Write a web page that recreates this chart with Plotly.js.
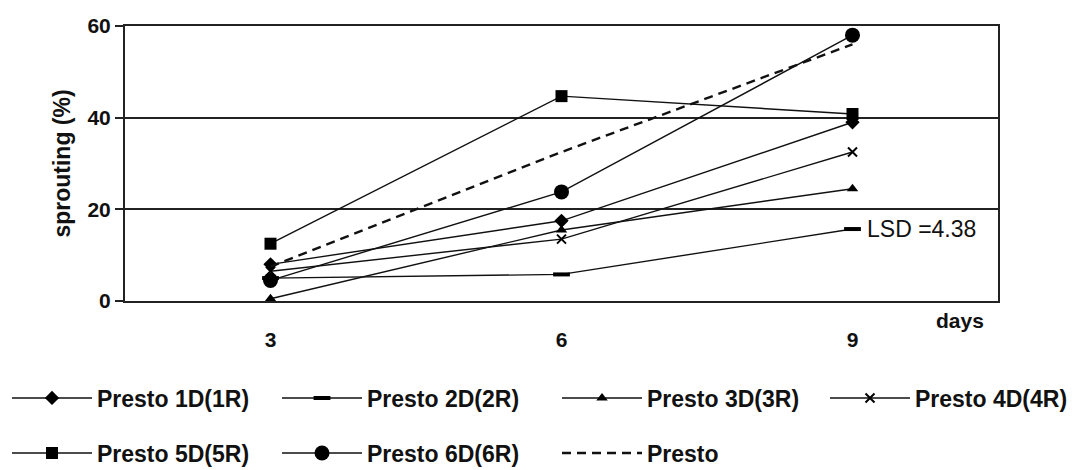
<!DOCTYPE html>
<html>
<head>
<meta charset="utf-8">
<script src="https://cdn.plot.ly/plotly-3.0.1.min.js"></script>
<style>html,body{margin:0;padding:0;background:#fff;}#chart{width:1080px;height:470px;}</style>
</head>
<body>
<div id="chart"></div>
<script>
const days = ['3', '6', '9'];
const presto1D = [8, 17.5, 39];
const presto2D = [5, 5.8, 15.7];
const presto3D = [0.5, 15.5, 24.5];
const presto4D = [6.5, 13.5, 32.5];
const presto5D = [12.5, 44.7, 40.8];
const presto6D = [4.5, 23.8, 58];
const presto = [7.5, 32.5, 56];
const yTicks = [0, 20, 40, 60];
const lsdText = 'LSD =4.38';

const FONT = 'Liberation Sans, Arial, sans-serif';
function tr(name, y, marker, legend) {
  return {
    x: days, y: y, name: name, type: 'scatter', mode: 'lines+markers',
    line: {color: '#111', width: 1.4},
    marker: Object.assign({color: '#000', line: {color: '#000', width: 0}}, marker),
    legend: legend
  };
}
const traces = [
  tr('Presto 1D(1R)', presto1D, {symbol: 'diamond', size: 11}, 'legend'),
  tr('Presto 2D(2R)', presto2D, {symbol: 'line-ew', size: 12, line: {color: '#000', width: 4}}, 'legend2'),
  tr('Presto 3D(3R)', presto3D, {symbol: 'triangle-up', size: 10}, 'legend3'),
  tr('Presto 4D(4R)', presto4D, {symbol: 'x-thin', size: 9, line: {color: '#000', width: 2}}, 'legend4'),
  tr('Presto 5D(5R)', presto5D, {symbol: 'square', size: 12}, 'legend5'),
  tr('Presto 6D(6R)', presto6D, {symbol: 'circle', size: 15}, 'legend6'),
  {x: days, y: presto, name: 'Presto', type: 'scatter', mode: 'lines',
   line: {color: '#111', width: 2.4, dash: '9px,6px'}, legend: 'legend7'}
];

function leg(xpx, ypx) {
  return {
    orientation: 'h', xref: 'container', yref: 'container',
    x: xpx / 1080, y: 1 - ypx / 470,
    xanchor: 'left', yanchor: 'middle', itemwidth: 80,
    font: {family: FONT, size: 23, color: '#111', weight: 'bold'},
    bgcolor: 'rgba(0,0,0,0)', borderwidth: 0
  };
}

const layout = {
  width: 1080, height: 470,
  margin: {l: 125, r: 82, t: 26, b: 169},
  paper_bgcolor: '#fff', plot_bgcolor: '#fff',
  font: {family: FONT, size: 20, color: '#111', weight: 'bold'},
  showlegend: true,
  legend: leg(7, 398), legend2: leg(277, 398), legend3: leg(557, 398), legend4: leg(825, 398),
  legend5: leg(7, 453), legend6: leg(277, 453), legend7: leg(557, 453),
  xaxis: {
    type: 'category', range: [-0.5, 2.5], showgrid: false, zeroline: false,
    showline: true, linecolor: '#222', linewidth: 2, mirror: true,
    ticks: '', ticklabelstandoff: 19,
    tickfont: {family: FONT, size: 21, color: '#111', weight: 'bold'}
  },
  yaxis: {
    range: [0, 60], tickvals: yTicks, showgrid: true, gridcolor: '#222', gridwidth: 2,
    zeroline: false, showline: true, linecolor: '#222', linewidth: 2, mirror: true,
    ticks: 'outside', ticklen: 8, tickcolor: '#222', tickwidth: 2,
    tickfont: {family: FONT, size: 21, color: '#111', weight: 'bold'},
    title: {text: 'sprouting (%)', standoff: 10, font: {family: FONT, size: 23, color: '#111', weight: 'bold'}}
  },
  annotations: [
    {x: 2, y: presto2D[2], xref: 'x', yref: 'y', text: lsdText, showarrow: false,
     xanchor: 'left', yanchor: 'middle', xshift: 12,
     font: {family: FONT, size: 23, color: '#111', weight: 'normal'}},
    {x: 0.956, y: -0.07, xref: 'paper', yref: 'paper', text: 'days', showarrow: false,
     xanchor: 'center', yanchor: 'middle',
     font: {family: FONT, size: 21, color: '#111', weight: 'bold'}}
  ]
};

Plotly.newPlot('chart', traces, layout, {displayModeBar: false, staticPlot: true});
</script>
</body>
</html>
